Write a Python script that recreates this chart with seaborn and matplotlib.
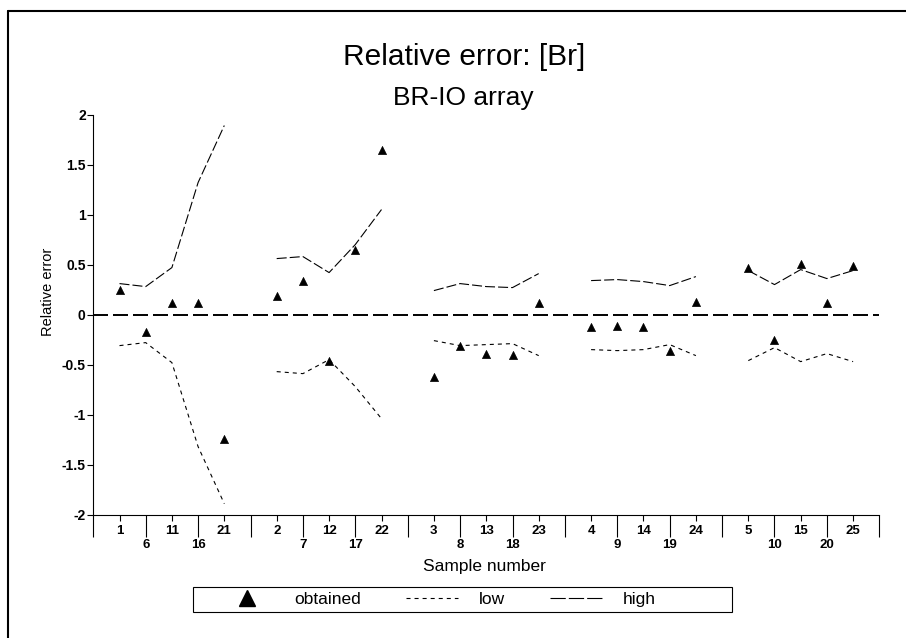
import numpy as np
import pandas as pd
import matplotlib
matplotlib.use("Agg")
import matplotlib.pyplot as plt
import seaborn as sns
from matplotlib.lines import Line2D
from matplotlib.patches import Rectangle
from matplotlib.ticker import FixedLocator, FixedFormatter

sns.set_theme(style="white")
plt.rcParams["font.family"] = ["Liberation Sans", "DejaVu Sans"]
plt.rcParams["axes.unicode_minus"] = False
plt.rcParams["lines.scale_dashes"] = False
for k in ["text.color", "axes.labelcolor", "xtick.color", "ytick.color", "axes.edgecolor"]:
    plt.rcParams[k] = "black"

# ---------------- data ----------------
sample_numbers = [1, 6, 11, 16, 21,
                  2, 7, 12, 17, 22,
                  3, 8, 13, 18, 23,
                  4, 9, 14, 19, 24,
                  5, 10, 15, 20, 25]
group_ids = [1] * 5 + [2] * 5 + [3] * 5 + [4] * 5 + [5] * 5
slot_in_group = [1, 2, 3, 4, 5] * 5

obtained = [0.25, -0.17, 0.12, 0.12, -1.24,
            0.19, 0.34, -0.46, 0.65, 1.65,
            -0.62, -0.31, -0.39, -0.40, 0.12,
            -0.12, -0.11, -0.12, -0.36, 0.13,
            0.47, -0.25, 0.51, 0.12, 0.49]
low = [-0.31, -0.28, -0.48, -1.32, -1.89,
       -0.57, -0.59, -0.45, -0.72, -1.04,
       -0.26, -0.31, -0.30, -0.29, -0.41,
       -0.35, -0.36, -0.35, -0.30, -0.41,
       -0.46, -0.33, -0.47, -0.39, -0.47]
high = [0.31, 0.28, 0.47, 1.32, 1.89,
        0.56, 0.58, 0.42, 0.70, 1.05,
        0.24, 0.31, 0.28, 0.27, 0.41,
        0.34, 0.35, 0.33, 0.29, 0.38,
        0.44, 0.30, 0.45, 0.36, 0.44]

df = pd.DataFrame({"sample": sample_numbers, "group": group_ids, "slot": slot_in_group,
                   "obtained": obtained, "low": low, "high": high})
# categorical positions: 5 groups of 5 samples with one empty slot between groups
df["pos"] = (df["group"] - 1) * 6 + df["slot"]

# ---------------- figure ----------------
W, H = 906, 638
fig = plt.figure(figsize=(W / 100, H / 100), dpi=100)
ax_l, ax_r, ax_t, ax_b = 93.3, 879.3, 114.5, 514.7
ax = fig.add_axes([ax_l / W, 1 - ax_b / H, (ax_r - ax_l) / W, (ax_b - ax_t) / H])

ax.axhline(0, color="black", lw=1.4, linestyle=(0, (10.8, 3.6)), zorder=1)
sns.lineplot(data=df, x="pos", y="high", units="group", estimator=None, color="black",
             lw=0.8, linestyle=(0, (7.2, 2.2)), ax=ax, legend=False)
sns.lineplot(data=df, x="pos", y="low", units="group", estimator=None, color="black",
             lw=0.8, linestyle=(0, (2.9, 2.9)), ax=ax, legend=False)
sns.scatterplot(data=df, x="pos", y="obtained", marker="^", s=34, color="black",
                edgecolor="black", linewidth=0.5, zorder=3, ax=ax, legend=False)

ax.set_xlim(0, 30)
ax.set_ylim(-2, 2)
ax.grid(False)
for s in ["top", "right"]:
    ax.spines[s].set_visible(False)
for s in ["left", "bottom"]:
    ax.spines[s].set_linewidth(0.8)

# y ticks
yt = np.arange(-2, 2.01, 0.5)
ax.set_yticks(yt)
ax.set_yticklabels([f"{v:g}" for v in yt])
ax.tick_params(axis="y", which="major", left=True, length=4.3, width=0.8, pad=1.2,
               labelsize=10)

# x ticks: odd positions -> upper row labels; even positions -> lower row labels (long ticks)
pos_to_label = dict(zip(df["pos"], df["sample"]))
odd = [p for p in range(1, 30, 2)]
even = [p for p in range(0, 31, 2)]
ax.xaxis.set_major_locator(FixedLocator(odd))
ax.xaxis.set_major_formatter(FixedFormatter([str(pos_to_label.get(p, "")) for p in odd]))
ax.xaxis.set_minor_locator(FixedLocator(even))
ax.xaxis.set_minor_formatter(FixedFormatter([str(pos_to_label.get(p, "")) for p in even]))
ax.tick_params(axis="x", which="major", bottom=True, length=4.3, width=0.8, pad=3.0,
               labelsize=9.5)
ax.tick_params(axis="x", which="minor", bottom=True, labelbottom=True, length=15.8,
               width=0.8, pad=1.8, labelsize=9.5)
for lab in ax.get_xticklabels(which="both") + ax.get_yticklabels():
    lab.set_fontweight("bold")

ax.set_ylabel("Relative error", fontsize=10.5)
ax.yaxis.set_label_coords(-0.049, 0.556)
ax.set_xlabel("Sample number", fontsize=12.5)
ax.xaxis.set_label_coords(0.497, -0.110)

# titles
fig.text(464 / W, 1 - 56.7 / H, "Relative error: [Br]", ha="center", va="center", fontsize=21.5)
fig.text(463.5 / W, 1 - 98 / H, "BR-IO array", ha="center", va="center", fontsize=19)

# legend
handles = [Line2D([], [], marker="^", ls="none", color="black", ms=11),
           Line2D([], [], color="black", lw=0.8, ls=(0, (2.9, 2.9))),
           Line2D([], [], color="black", lw=0.8, ls=(0, (11, 2.2)))]
fig.legend(handles, ["obtained", "low", "high"], loc="center left",
           bbox_to_anchor=(221 / W, 1 - 599 / H), ncol=3, frameon=False,
           handlelength=3.0, handletextpad=1.2, columnspacing=2.6, fontsize=12.5,
           borderpad=0, borderaxespad=0)
fig.add_artist(Rectangle((192.7 / W, 1 - 611.6 / H), (732 - 192.7) / W, 24.6 / H,
                         transform=fig.transFigure, fill=False, edgecolor="black", lw=0.8))

# outer frame
fig.add_artist(Line2D([8 / W, 8 / W], [0, 1 - 10.7 / H], transform=fig.transFigure,
                      color="black", lw=1.5))
fig.add_artist(Line2D([8 / W, 1], [1 - 10.7 / H, 1 - 10.7 / H], transform=fig.transFigure,
                      color="black", lw=1.5))

fig.savefig("out.png", dpi=100)
